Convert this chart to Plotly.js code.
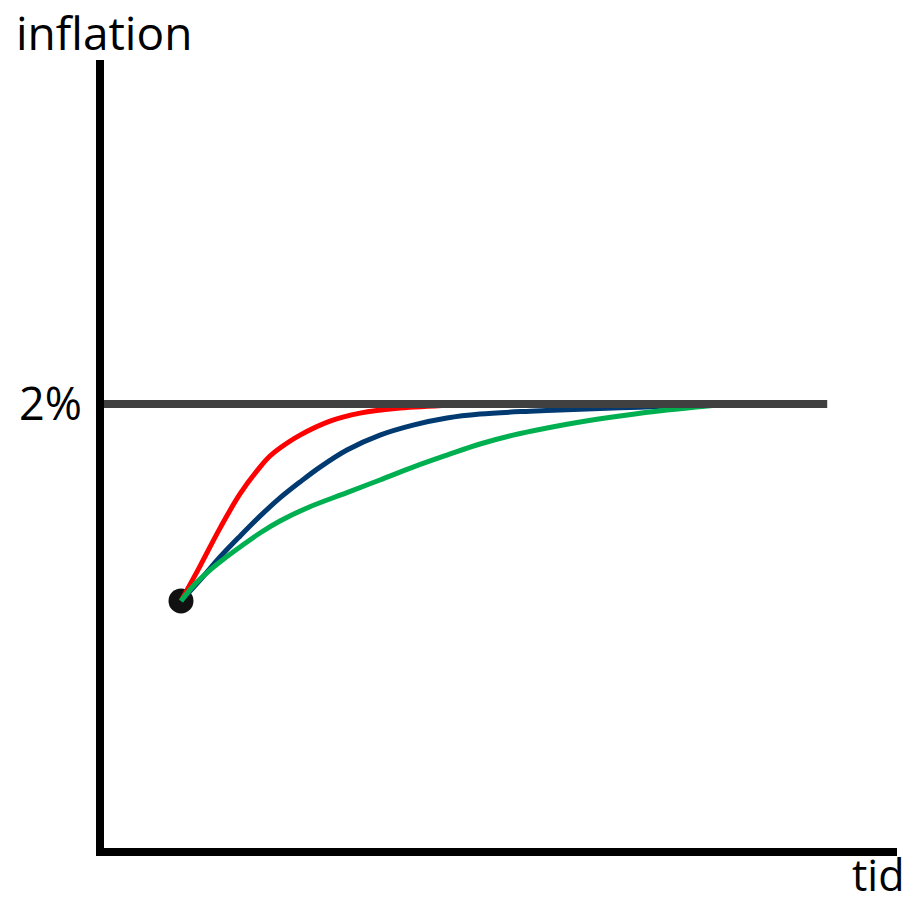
<!DOCTYPE html>
<html>
<head>
<meta charset="utf-8">
<script src="https://cdn.plot.ly/plotly-3.0.1.min.js"></script>
<style>html,body{margin:0;padding:0;background:#fff;}#chart{width:912px;height:906px;}</style>
</head>
<body>
<div id="chart"></div>
<script>
// Data (time in arbitrary units, inflation in %)
const targetTime = [0, 9.12];
const targetInflation = [2, 2];

const startTime = [0.971];
const startInflation = [1.113];

const redTime = [0.971, 1.211, 1.463, 1.715, 1.967, 2.093, 2.219, 2.472, 2.850, 3.228, 3.733, 4.363, 4.994];
const redInflation = [1.113, 1.270, 1.441, 1.595, 1.716, 1.766, 1.802, 1.860, 1.923, 1.959, 1.982, 1.995, 2.0];

const blueTime = [0.971, 1.211, 1.463, 1.715, 1.967, 2.219, 2.472, 2.724, 3.064, 3.480, 3.897, 4.325, 4.741, 5.372, 6.003, 6.759, 7.516];
const blueInflation = [1.113, 1.207, 1.311, 1.405, 1.495, 1.577, 1.649, 1.716, 1.793, 1.860, 1.905, 1.937, 1.955, 1.968, 1.977, 1.986, 1.998];

const greenTime = [0.971, 1.148, 1.337, 1.526, 1.715, 1.967, 2.219, 2.560, 3.064, 3.480, 3.897, 4.325, 4.741, 5.158, 5.586, 6.003, 6.507, 7.100, 7.730, 8.083];
const greenInflation = [1.113, 1.189, 1.252, 1.306, 1.356, 1.419, 1.473, 1.532, 1.601, 1.658, 1.716, 1.770, 1.820, 1.860, 1.892, 1.919, 1.946, 1.973, 1.995, 2.0];

const yTickVals = [2];
const yTickText = ['2%'];

const FONT = '"Open Sans", "Noto Sans", sans-serif';

const traces = [
  {x: startTime, y: startInflation, mode: 'markers', marker: {color: '#111111', size: 25}},
  {x: redTime, y: redInflation, mode: 'lines', line: {color: '#ff0000', width: 5, shape: 'spline', smoothing: 1}},
  {x: blueTime, y: blueInflation, mode: 'lines', line: {color: '#003a70', width: 5, shape: 'spline', smoothing: 1}},
  {x: greenTime, y: greenInflation, mode: 'lines', line: {color: '#00b050', width: 5, shape: 'spline', smoothing: 1}},
  {x: targetTime, y: targetInflation, mode: 'lines', line: {color: '#404040', width: 8}}
];

const layout = {
  width: 912, height: 906,
  margin: {l: 104, r: 15, t: 60, b: 58},
  paper_bgcolor: '#ffffff', plot_bgcolor: '#ffffff',
  showlegend: false,
  xaxis: {range: [0, 10], showline: true, linewidth: 8, linecolor: '#000000', showgrid: false, zeroline: false, showticklabels: false, ticks: ''},
  yaxis: {range: [0, 3.55], showline: true, linewidth: 8, linecolor: '#000000', showgrid: false, zeroline: false,
          tickvals: yTickVals, ticktext: yTickText, ticks: '', ticklabelstandoff: 5, tickfont: {family: FONT, size: 45, color: '#000'}},
  annotations: [
    {text: 'inflation', xref: 'paper', yref: 'paper', x: -0.1135, y: 1.036, xanchor: 'left', yanchor: 'middle', showarrow: false, font: {family: FONT, size: 46, color: '#000'}},
    {text: 'tid', xref: 'paper', yref: 'paper', x: 1.012, y: -0.034, xanchor: 'right', yanchor: 'middle', showarrow: false, font: {family: FONT, size: 43, color: '#000'}}
  ]
};

Plotly.newPlot('chart', traces, layout, {staticPlot: true, displayModeBar: false});
</script>
</body>
</html>
